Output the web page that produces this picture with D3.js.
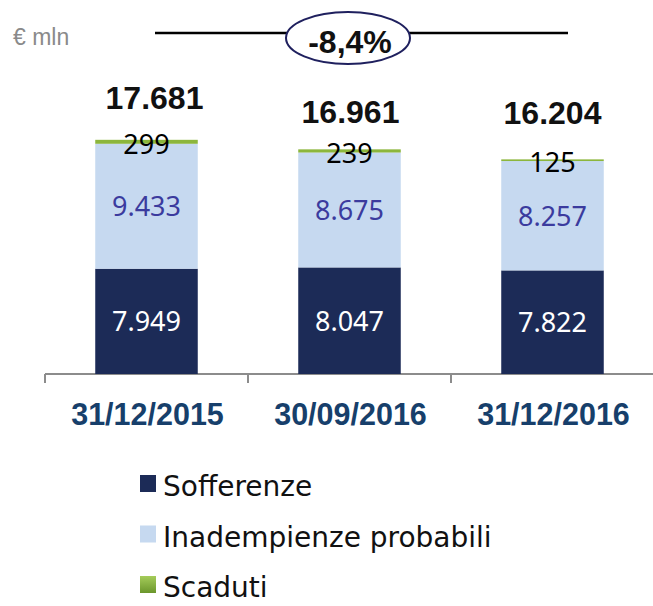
<!DOCTYPE html>
<html>
<head>
<meta charset="utf-8">
<script src="https://cdn.jsdelivr.net/npm/d3@7"></script>
<style>
  html, body { margin: 0; padding: 0; background: #fff; }
  svg { display: block; }
</style>
</head>
<body>
<svg id="chart" width="653" height="606"></svg>
<script>
// ---- Data ----
const categories = ["31/12/2015", "30/09/2016", "31/12/2016"];
const sofferenze = [7949, 8047, 7822];
const inadempienze = [9433, 8675, 8257];
const scaduti = [299, 239, 125];
const totals = [17681, 16961, 16204];
const seriesNames = ["Sofferenze", "Inadempienze probabili", "Scaduti"];
const changeLabel = "-8,4%";
const unitLabel = "€ mln";

const fmt = v => d3.format(",")(v).replace(/,/g, ".");

// ---- Layout ----
const svg = d3.select("#chart");
const colors = ["#1c2b57", "#c6d9f0", "#8cb63c"];
const labelColors = ["#ffffff", "#3b3b9e", "#000000"];

const x = d3.scaleBand().domain(categories).range([45, 654]).padding(0);
const y = d3.scaleLinear().domain([0, 20000]).range([374, 374 - 20000 / 75.5]);
const barW = x.bandwidth() * 0.505;

const defs = svg.append("defs");
const grad = defs.append("linearGradient").attr("id", "gGreen")
  .attr("x1", 0).attr("y1", 0).attr("x2", 0).attr("y2", 1);
grad.append("stop").attr("offset", "0%").attr("stop-color", "#a5cc5a");
grad.append("stop").attr("offset", "100%").attr("stop-color", "#6b962c");

// stacked data
const rows = categories.map((c, i) => ({
  cat: c, Sofferenze: sofferenze[i], "Inadempienze probabili": inadempienze[i], Scaduti: scaduti[i]
}));
const stacked = d3.stack().keys(seriesNames)(rows);

// axis line
const axisG = svg.append("g");
axisG.append("line")
  .attr("x1", x.range()[0]).attr("x2", 653)
  .attr("y1", y(0)).attr("y2", y(0))
  .attr("stroke", "#8c8c8c").attr("stroke-width", 2);
const tickXs = categories.map(c => x(c)).concat([x(categories[categories.length - 1]) + x.bandwidth()]);
axisG.selectAll("line.tick").data(tickXs).enter().append("line")
  .attr("class", "tick")
  .attr("x1", d => d).attr("x2", d => d)
  .attr("y1", y(0)).attr("y2", y(0) + 9)
  .attr("stroke", "#8c8c8c").attr("stroke-width", 2);

// bars
stacked.forEach((layer, li) => {
  svg.append("g").selectAll("rect").data(layer).enter().append("rect")
    .attr("x", d => x(d.data.cat) + (x.bandwidth() - barW) / 2)
    .attr("width", barW)
    .attr("y", d => y(d[1]))
    .attr("height", d => y(d[0]) - y(d[1]))
    .attr("fill", colors[li]);
});

// segment labels
stacked.forEach((layer, li) => {
  svg.append("g").selectAll("text").data(layer).enter().append("text")
    .attr("x", d => x(d.data.cat) + x.bandwidth() / 2)
    .attr("y", d => (y(d[0]) + y(d[1])) / 2 + (li === 2 ? 12 : 10))
    .attr("text-anchor", "middle")
    .attr("font-family", "'Noto Sans', 'Open Sans', sans-serif")
    .attr("font-size", 27)
    .attr("fill", labelColors[li])
    .text(d => fmt(d[1] - d[0]));
});

// totals
const totalDy = [-31, -26, -35];
const totalDx = [8, 1, 0];
svg.append("g").selectAll("text").data(totals).enter().append("text")
  .attr("x", (d, i) => x(categories[i]) + x.bandwidth() / 2 + totalDx[i])
  .attr("y", (d, i) => y(d) + totalDy[i])
  .attr("text-anchor", "middle")
  .attr("font-family", "'Liberation Sans', Arial, sans-serif")
  .attr("font-weight", "bold")
  .attr("font-size", 32)
  .attr("fill", "#111")
  .text(d => fmt(d));

// category labels
svg.append("g").selectAll("text").data(categories).enter().append("text")
  .attr("x", d => x(d) + x.bandwidth() / 2 + 1)
  .attr("y", 425)
  .attr("text-anchor", "middle")
  .attr("font-family", "'Liberation Sans', Arial, sans-serif")
  .attr("font-weight", "bold")
  .attr("font-size", 30.5)
  .attr("fill", "#173f6b")
  .text(d => d);

// unit label
svg.append("text")
  .attr("x", 13).attr("y", 45)
  .attr("font-family", "'Liberation Sans', Arial, sans-serif")
  .attr("font-size", 23)
  .attr("fill", "#8a8a8a")
  .text(unitLabel);

// change indicator
svg.append("line").attr("x1", 155).attr("x2", 568).attr("y1", 33).attr("y2", 33)
  .attr("stroke", "#000").attr("stroke-width", 2.5);
svg.append("ellipse").attr("cx", 348).attr("cy", 38).attr("rx", 62).attr("ry", 26)
  .attr("fill", "#fff").attr("stroke", "#1f205e").attr("stroke-width", 2);
svg.append("text")
  .attr("x", 350).attr("y", 53)
  .attr("text-anchor", "middle")
  .attr("font-family", "'Liberation Sans', Arial, sans-serif")
  .attr("font-weight", "bold")
  .attr("font-size", 32)
  .attr("fill", "#111")
  .text(changeLabel);

// legend
const legend = svg.append("g");
const legItems = legend.selectAll("g").data(seriesNames).enter().append("g")
  .attr("transform", (d, i) => `translate(140, ${496 + i * 50.5})`);
legItems.append("rect")
  .attr("x", 0).attr("y", -21).attr("width", 16).attr("height", 17)
  .attr("fill", (d, i) => i === 2 ? "url(#gGreen)" : colors[i]);
legItems.append("text")
  .attr("x", 23).attr("y", 0)
  .attr("font-family", "'DejaVu Sans', sans-serif")
  .attr("font-size", 28)
  .attr("fill", "#111")
  .text(d => d);
</script>
</body>
</html>
